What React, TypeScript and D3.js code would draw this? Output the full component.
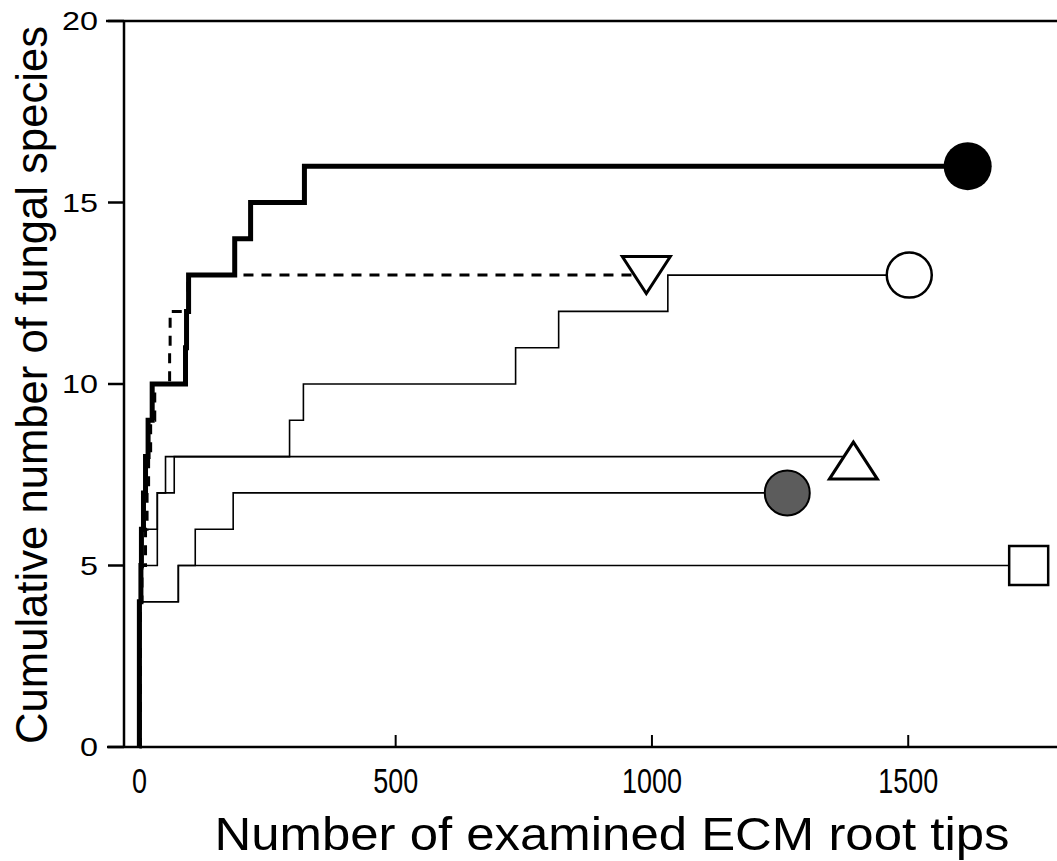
import React from 'react';
import * as d3 from 'd3';

// step data: [root tips examined, cumulative species]
const filledCircleSeries: [number, number][] = [
  [0, 0], [0, 4], [3, 5], [4, 6], [8, 7], [12, 8], [17, 9], [25, 10],
  [90, 11], [92, 12], [96, 13], [186, 14], [217, 15], [322, 16], [1616, 16],
];
const invTriangleSeries: [number, number][] = [
  [0, 0], [2, 4], [5, 5], [12, 6], [15, 7], [18, 8], [22, 9], [30, 10],
  [59, 11], [60, 12], [95, 13], [989, 13],
];
const openCircleSeries: [number, number][] = [
  [0, 0], [2, 5], [35, 7], [68, 8], [293, 9], [320, 10], [734, 11],
  [818, 12], [1031, 13], [1502, 13],
];
const triangleSeries: [number, number][] = [
  [0, 0], [2, 6], [35, 7], [51, 8], [1393, 8],
];
const grayCircleSeries: [number, number][] = [
  [0, 0], [2, 4], [76, 5], [109, 6], [183, 7], [1264, 7],
];
const squareSeries: [number, number][] = [
  [0, 0], [2, 4], [76, 5], [1735, 5],
];

const xTicks = [0, 500, 1000, 1500];
const yTicks = [0, 5, 10, 15, 20];
const xTitle = 'Number of examined ECM root tips';
const yTitle = 'Cumulative number of fungal species';

const W = 1057;
const H = 861;
const font = '"Liberation Sans", Arial, Helvetica, sans-serif';

export default function App() {
  const x = d3.scaleLinear().domain([-30, 1800]).range([124, 1062]);
  const y = d3.scaleLinear().domain([0, 20]).range([747, 21]);

  const line = d3
    .line<[number, number]>()
    .x((d) => x(d[0]))
    .y((d) => y(d[1]))
    .curve(d3.curveStepAfter);

  const last = (s: [number, number][]) => s[s.length - 1];

  const tri = (cx: number, cy: number, w: number, h: number, down: boolean) => {
    const t = cy - h / 2;
    const b = cy + h / 2;
    return down
      ? `M${cx - w / 2},${t}L${cx + w / 2},${t}L${cx},${b}Z`
      : `M${cx - w / 2},${b}L${cx + w / 2},${b}L${cx},${t}Z`;
  };

  const [fcx, fcy] = last(filledCircleSeries);
  const [itx, ity] = last(invTriangleSeries);
  const [ocx, ocy] = last(openCircleSeries);
  const [tx, ty] = last(triangleSeries);
  const [gcx, gcy] = last(grayCircleSeries);
  const [sx, sy] = last(squareSeries);

  return (
    <svg
      width={W}
      height={H}
      style={{ position: 'absolute', left: 0, top: 0, background: '#fff' }}
      fontFamily={font}
    >
      <rect width={W} height={H} fill="#fff" />

      {/* frame */}
      <line x1={124} x2={124} y1={y(20)} y2={y(0)} stroke="#000" strokeWidth={2.5} />
      <line x1={107} x2={W} y1={y(0)} y2={y(0)} stroke="#000" strokeWidth={2.5} />
      <line x1={106} x2={W} y1={y(20)} y2={y(20)} stroke="#000" strokeWidth={2.5} />

      {yTicks.map((v) => (
        <g key={v}>
          <line x1={108} x2={124} y1={y(v)} y2={y(v)} stroke="#000" strokeWidth={2.5} />
          <text
            x={98}
            y={y(v) + 9}
            textAnchor="end"
            fontSize={25}
            textLength={String(v).length * 18}
            lengthAdjust="spacingAndGlyphs"
          >
            {v}
          </text>
        </g>
      ))}

      {xTicks.map((v) => (
        <g key={v}>
          <line x1={x(v)} x2={x(v)} y1={y(0)} y2={y(0) - 12} stroke="#000" strokeWidth={2} />
          <text
            x={x(v)}
            y={793}
            textAnchor="middle"
            fontSize={35}
            textLength={String(v).length * 15}
            lengthAdjust="spacingAndGlyphs"
          >
            {v}
          </text>
        </g>
      ))}

      <text
        x={612}
        y={850}
        textAnchor="middle"
        fontSize={46}
        textLength={795}
        lengthAdjust="spacingAndGlyphs"
      >
        {xTitle}
      </text>
      <text
        transform={`translate(47,385) rotate(-90)`}
        textAnchor="middle"
        fontSize={45}
        textLength={718}
        lengthAdjust="spacingAndGlyphs"
      >
        {yTitle}
      </text>

      {/* thin curves */}
      {[squareSeries, grayCircleSeries, triangleSeries, openCircleSeries].map((s, i) => (
        <path key={i} d={line(s) ?? ''} fill="none" stroke="#000" strokeWidth={1.6} />
      ))}
      <path
        d={line(invTriangleSeries) ?? ''}
        fill="none"
        stroke="#000"
        strokeWidth={3}
        strokeDasharray="10,8"
      />
      <path d={line(filledCircleSeries) ?? ''} fill="none" stroke="#000" strokeWidth={5} />

      {/* end markers */}
      <circle cx={x(fcx)} cy={y(fcy)} r={24} fill="#000" />
      <circle cx={x(ocx)} cy={y(ocy)} r={22.5} fill="#fff" stroke="#000" strokeWidth={2.5} />
      <circle cx={x(gcx)} cy={y(gcy)} r={22.5} fill="#5c5c5c" stroke="#000" strokeWidth={2} />
      <path d={tri(x(itx), y(ity), 48, 37, true)} fill="#fff" stroke="#000" strokeWidth={3} />
      <path d={tri(x(tx), y(ty) + 4, 48, 37, false)} fill="#fff" stroke="#000" strokeWidth={3} />
      <rect
        x={x(sx) - 19.5}
        y={y(sy) - 19.5}
        width={39}
        height={39}
        fill="#fff"
        stroke="#000"
        strokeWidth={2.5}
      />
    </svg>
  );
}
